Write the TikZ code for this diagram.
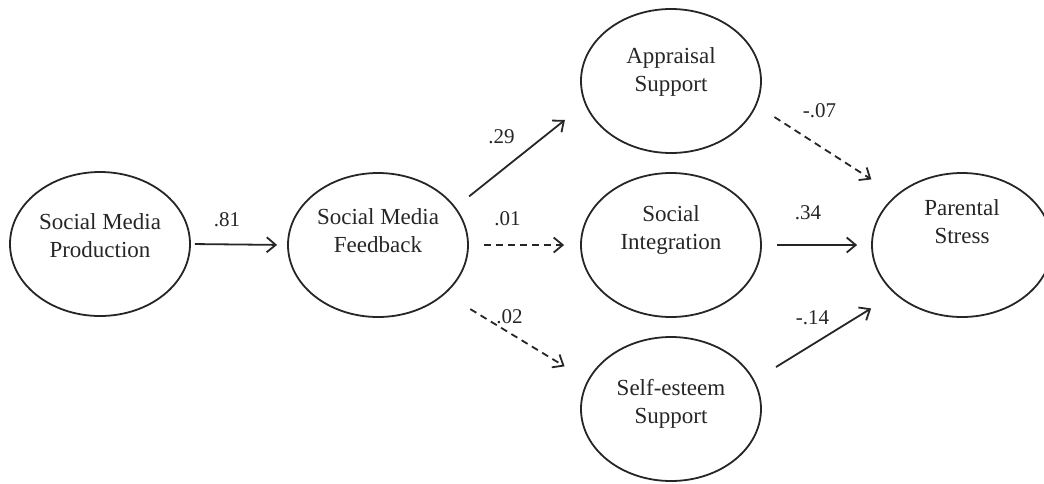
\documentclass[tikz,border=0pt]{standalone}
\usepackage{fontspec}
\setmainfont{Liberation Serif}
\usepackage{tikz}
\usetikzlibrary{shapes.geometric,arrows.meta}

\definecolor{ink}{HTML}{262626}
\tikzset{
  latent/.style={ellipse, draw=ink, line width=0.9pt, minimum width=90pt,
    minimum height=72pt, inner sep=0pt},
  nm/.style={align=center, text=ink, font=\fontsize{11.5}{14}\selectfont},
  effect/.style={draw=ink, line width=0.9pt,
    -{Straight Barb[length=4.5pt,width=7.5pt]}},
  weak/.style={effect, dash pattern=on 3.5pt off 2.5pt},
  coef/.style={text=ink, font=\fontsize{10.5}{12}\selectfont, inner sep=1pt}
}

\begin{document}
\begin{tikzpicture}[x=0.5pt,y=-0.5pt]
\useasboundingbox (0,0) rectangle (1044,483);

% constructs
\node[latent, label={[nm,yshift=4pt]center:{Social Media\\Production}}] (prod) at (100,244) {};
\node[latent, label={[nm,yshift=7pt]center:{Social Media\\Feedback}}] (fb) at (378,245) {};
\node[latent, label={[nm,yshift=4.5pt]center:{Appraisal\\Support}}] (app) at (671,81) {};
\node[latent, label={[nm,yshift=7.5pt]center:{Social\\Integration}}] (integ) at (671,245) {};
\node[latent, label={[nm,yshift=2.5pt]center:{Self-esteem\\Support}}] (self) at (671,409) {};
\node[latent, label={[nm,yshift=11.5pt]center:{Parental\\Stress}}] (stress) at (962,245) {};

% paths
\draw[effect, shorten <=2pt, shorten >=5pt] (prod.0) -- node[coef, xshift=-6pt, yshift=12.5pt] {.81} (fb.180);
\draw[effect, shorten <=8.6pt, shorten >=12.7pt] (fb.26) -- node[coef, xshift=-9.4pt, yshift=9.3pt] {.29} (app.195);
\draw[weak, shorten <=7.5pt, shorten >=8pt] (fb.0) -- node[coef, xshift=-8.5pt, yshift=13pt] {.01} (integ.180);
\draw[weak, shorten <=14.6pt, shorten >=13.4pt] (fb.-36) -- node[coef, xshift=-3.5pt, yshift=10pt] {.02} (self.161);
\draw[weak, shorten <=10.6pt, shorten >=14.5pt] (app.-16) -- node[coef, xshift=-3.3pt, yshift=20pt] {-.07} (stress.143);
\draw[effect, shorten <=7.5pt, shorten >=7pt] (integ.0) -- node[coef, xshift=-4.2pt, yshift=16pt] {.34} (stress.180);
\draw[effect, shorten <=12.6pt, shorten >=13.8pt] (self.19) -- node[coef, xshift=-6pt, yshift=9.5pt] {-.14} (stress.216);
\end{tikzpicture}
\end{document}
